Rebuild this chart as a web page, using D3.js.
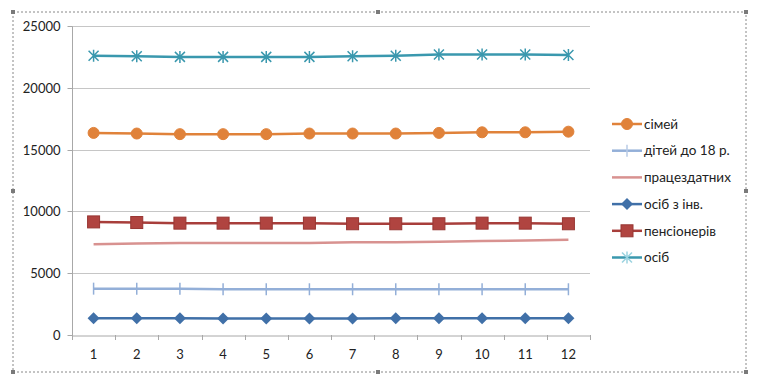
<!DOCTYPE html>
<html><head><meta charset="utf-8">
<script src="https://cdn.jsdelivr.net/npm/d3@7"></script>
<style>body{margin:0;background:#fff}svg{display:block}</style>
</head><body>
<script>
const categories = ["1","2","3","4","5","6","7","8","9","10","11","12"];
const yTicks = [0,5000,10000,15000,20000,25000];
const simei = [16350,16300,16250,16250,16250,16300,16300,16300,16350,16400,16400,16450];
const ditei = [3750,3750,3750,3700,3700,3700,3700,3700,3700,3700,3700,3700];
const pratsezdatnykh = [7350,7400,7450,7450,7450,7450,7500,7500,7550,7600,7650,7700];
const osibZInv = [1350,1350,1350,1340,1340,1340,1340,1350,1350,1350,1350,1350];
const pensioneriv = [9150,9100,9050,9050,9050,9050,9000,9000,9000,9050,9050,9000];
const osib = [22600,22550,22500,22500,22500,22500,22550,22600,22700,22700,22700,22650];
const seriesNames = ["сімей","дітей до 18 р.","працездатних","осіб з інв.","пенсіонерів","осіб"];

const series = [
  {name:seriesNames[0], values:simei, color:"#E0823A", marker:"circle", w:2.5},
  {name:seriesNames[1], values:ditei, color:"#93AFD8", marker:"plus", w:2.5},
  {name:seriesNames[2], values:pratsezdatnykh, color:"#D89290", marker:"none", w:2.5},
  {name:seriesNames[3], values:osibZInv, color:"#4070A8", marker:"diamond", w:2.5},
  {name:seriesNames[4], values:pensioneriv, color:"#A83E3B", marker:"square", w:2.5},
  {name:seriesNames[5], values:osib, color:"#3A98AE", marker:"star", w:2.5}
];

const W=760,H=382;
const svg=d3.select("body").append("svg").attr("width",W).attr("height",H);
const font="Lato, 'Open Sans', sans-serif";

// outer frame
svg.append("rect").attr("x",13).attr("y",12).attr("width",733).attr("height",360)
  .attr("fill","#fff").attr("stroke","#888").attr("stroke-width",1).attr("stroke-dasharray","2,2");
[[13,12],[378,12],[746,12],[13,191],[746,191],[13,372],[378,372],[746,372]].forEach(p=>{
  svg.append("rect").attr("x",p[0]-2).attr("y",p[1]-2).attr("width",4).attr("height",4).attr("fill","#7a7a7a");
});

const x=d3.scaleBand().domain(categories).range([72,590]);
const y=d3.scaleLinear().domain([0,25000]).range([335,26]);

// gridlines
svg.append("g").selectAll("line").data(yTicks.filter(d=>d>0)).join("line")
  .attr("x1",72).attr("x2",590).attr("y1",d=>Math.round(y(d))+0.5).attr("y2",d=>Math.round(y(d))+0.5)
  .attr("stroke","#c6c6c6").attr("stroke-width",1);

// y axis
const ya=svg.append("g").attr("transform","translate(72.5,0.5)")
  .call(d3.axisLeft(y).tickValues(yTicks).tickSize(5).tickPadding(7).tickFormat(d=>d));
ya.select(".domain").attr("stroke","#a8a8a8").attr("d","M0,"+Math.round(y(25000))+"V"+Math.round(y(0)));
ya.selectAll(".tick line").attr("stroke","#a8a8a8");
ya.selectAll("text").attr("font-family",font).attr("font-size",13).attr("fill","#222");
ya.selectAll(".tick").attr("transform",d=>"translate(0,"+Math.round(y(d))+")");

// x axis
const xa=svg.append("g").attr("transform","translate(0,"+(Math.round(y(0))+0.5)+")")
  .call(d3.axisBottom(x).tickSize(0).tickPadding(14));
xa.select(".domain").attr("stroke","#a8a8a8");
xa.selectAll("text").attr("font-family",font).attr("font-size",13).attr("fill","#222");
// boundary ticks
const bounds=categories.map(c=>x(c)).concat([x.range()[1]]);
svg.append("g").selectAll("line").data(bounds).join("line")
  .attr("x1",d=>Math.round(d)+0.5).attr("x2",d=>Math.round(d)+0.5)
  .attr("y1",Math.round(y(0))).attr("y2",Math.round(y(0))+5).attr("stroke","#a8a8a8");

const cx=c=>x(c)+x.bandwidth()/2;

function drawMarker(g,type,color,px,py,legend){
  if(type==="circle"){
    g.append("circle").attr("cx",px).attr("cy",py).attr("r",5.5).attr("fill",color).attr("stroke",color);
  } else if(type==="square"){
    g.append("rect").attr("x",px-6).attr("y",py-6).attr("width",12).attr("height",12)
      .attr("fill","#B04440").attr("stroke","#983632").attr("stroke-width",1);
  } else if(type==="diamond"){
    g.append("path").attr("d",`M${px},${py-6}L${px+6},${py}L${px},${py+6}L${px-6},${py}Z`).attr("fill",color);
  } else if(type==="plus"){
    g.append("path").attr("d",`M${px},${py-6}V${py+6}`).attr("stroke",legend?"#b8cbe6":color).attr("stroke-width",1.5);
  } else if(type==="star"){
    g.append("path").attr("d",`M${px},${py-6}V${py+6}M${px-5},${py-5}L${px+5},${py+5}M${px-5},${py+5}L${px+5},${py-5}`)
      .attr("stroke",legend?"#9cd3e0":color).attr("stroke-width",1.5);
  }
}

const line=d3.line().x((d,i)=>cx(categories[i])).y(d=>y(d));
series.forEach(s=>{
  const g=svg.append("g");
  g.append("path").attr("d",line(s.values)).attr("fill","none").attr("stroke",s.color).attr("stroke-width",s.w);
  s.values.forEach((v,i)=>drawMarker(g,s.marker,s.color,cx(categories[i]),y(v)));
});

// legend
const ly0=124, ldy=26.7;
series.forEach((s,i)=>{
  const g=svg.append("g");
  const yy=ly0+i*ldy;
  g.append("line").attr("x1",612).attr("x2",642).attr("y1",yy).attr("y2",yy).attr("stroke",s.color).attr("stroke-width",2.5);
  drawMarker(g,s.marker,s.color,627,yy,true);
  g.append("text").attr("x",644).attr("y",yy).attr("dy","0.35em").attr("font-family",font)
    .attr("font-size",13.5).attr("fill","#222").text(s.name);
});
</script>
</body></html>
